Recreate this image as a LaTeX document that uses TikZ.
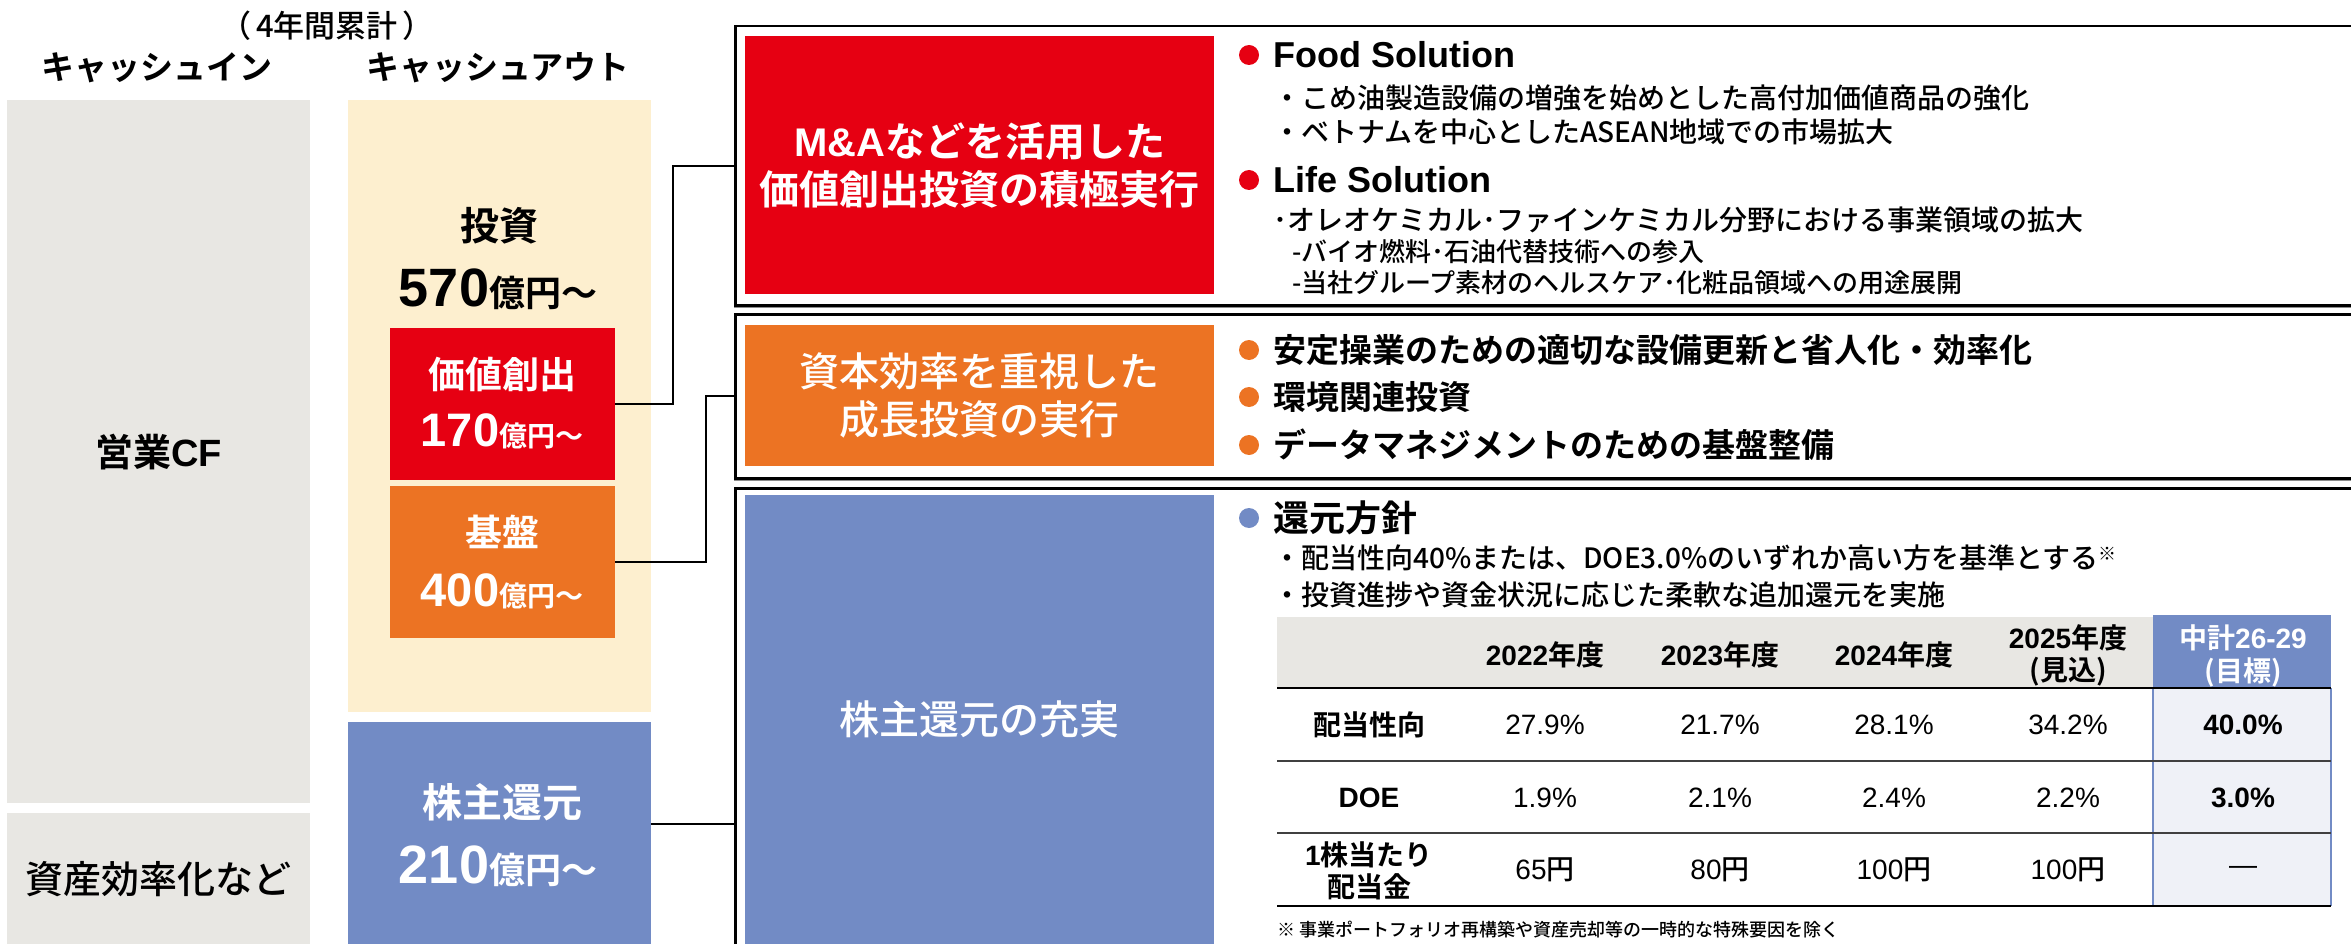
\documentclass[tikz,border=0pt]{standalone}
\usepackage{fontspec}
\setmainfont{Noto Sans CJK JP}[UprightFont={* Medium},BoldFont={* Bold}]
\newfontfamily\lat{Liberation Sans}
\newcommand\fsz[1]{\fontsize{#1}{#1}\selectfont}
\begin{document}
\begin{tikzpicture}[x=1pt,y=-1pt,
  box/.style={anchor=north west,inner sep=0pt,draw=none},
  panel/.style={anchor=north west,inner sep=0pt,draw=black,line width=2.5pt},
  txt/.style={inner sep=0pt},
  item/.style={anchor=west,inner sep=0pt},
  link/.style={line width=2pt}]
\definecolor{euqqwe}{rgb}{0.902,0.,0.071}
\definecolor{eoeier}{rgb}{0.91,0.906,0.89}
\definecolor{fdefcf}{rgb}{0.992,0.937,0.812}
\definecolor{ecirer}{rgb}{0.925,0.451,0.137}
\definecolor{iebccz}{rgb}{0.447,0.545,0.773}
\definecolor{effwfi}{rgb}{0.937,0.945,0.969}
\useasboundingbox (0,0) rectangle (2351,944);
\clip (0,0) rectangle (2351,944);
\draw (327,26) node[txt] (cum) {\fsz{31}（\kern5pt 4年間累計\kern5pt）};
\draw (157,68) node[txt] (cin) {\fsz{33}\bfseries キャッシュイン};
\draw (498,68) node[txt] (cout) {\fsz{33}\bfseries キャッシュアウト};
\draw (7,100) node[box,fill=eoeier,minimum width=303,minimum height=703,font=\fsz{38}\bfseries] (opcf) {営業{\lat CF}};
\draw (7,813) node[box,fill=eoeier,minimum width=303,minimum height=131,font=\fsz{38}] (asset) {資産効率化など};
\draw (348,100) node[box,fill=fdefcf,minimum width=303,minimum height=612] (invest) {};
\draw (390,328) node[box,fill=euqqwe,minimum width=225,minimum height=152] (value) {};
\draw (390,486) node[box,fill=ecirer,minimum width=225,minimum height=152] (base) {};
\draw (348,722) node[box,fill=iebccz,minimum width=303,minimum height=222] (ret) {};
\draw (499,226) node[txt] (investt) {\fsz{39}\bfseries 投資};
\draw (498,306) node[txt,anchor=base] (investn) {\bfseries{\lat\fsz{54}570}\fsz{36}億円～};
\draw (502,374) node[txt,text=white] (valuet) {\fsz{37}\bfseries 価値創出};
\draw (502,446) node[txt,anchor=base,text=white] (valuen) {\bfseries{\lat\fsz{47}170}\fsz{28}億円～};
\draw (502,532) node[txt,text=white] (baset) {\fsz{37}\bfseries 基盤};
\draw (502,606) node[txt,anchor=base,text=white] (basen) {\bfseries{\lat\fsz{47}400}\fsz{28}億円～};
\draw (502,802) node[txt,text=white] (rett) {\fsz{40}\bfseries 株主還元};
\draw (498,883) node[txt,anchor=base,text=white] (retn) {\bfseries{\lat\fsz{54}210}\fsz{36}億円～};
\draw [line width=1.5pt,color=black!45] (734,307) -- (2351,307);
\draw [line width=1.5pt,color=black!45] (734,480) -- (2351,480);
\draw (734,25) node[panel,minimum width=1700,minimum height=279] (p1) {};
\draw (734,313) node[panel,minimum width=1700,minimum height=164] (p2) {};
\draw (734,487) node[panel,minimum width=1700,minimum height=520] (p3) {};
\draw (745,36) node[box,fill=euqqwe,minimum width=469,minimum height=258,text=white,align=center,font=\fontsize{40}{48}\selectfont\bfseries] (grow) {{\lat M\&A}などを活用した\\価値創出投資の積極実行};
\draw (745,325) node[box,fill=ecirer,minimum width=469,minimum height=141,text=white,align=center,font=\fontsize{40}{48}\selectfont] (eff) {資本効率を重視した\\成長投資の実行};
\draw (745,495) node[box,fill=iebccz,minimum width=469,minimum height=449,text=white,font=\fsz{40}] (share) {株主還元の充実};
\draw[link] (value.east) -- ++(58,0) |- (p1.west);
\draw[link] (base.east) -- ++(91,0) |- (p2.west);
\coordinate (lvl) at (0,824);
\draw[link] (ret.east |- lvl) -- (p3.west |- lvl);
\draw [fill=euqqwe,draw=none] (1249,55) circle (10);
\draw (1273,55) node[item] (fs) {\fsz{36}\lat\bfseries Food Solution};
\draw (1273,98) node[item] (fs1) {\fsz{28}・こめ油製造設備の増強を始めとした高付加価値商品の強化};
\draw (1273,132) node[item] (fs2) {\fsz{28}・ベトナムを中心としたASEAN地域での市場拡大};
\draw [fill=euqqwe,draw=none] (1249,180) circle (10);
\draw (1273,180) node[item] (ls) {\fsz{36}\lat\bfseries Life Solution};
\draw (1273,220) node[item] (ls1) {\fsz{28}･オレオケミカル･ファインケミカル分野における事業領域の拡大};
\draw (1292,252) node[item] (ls2) {\fsz{26}-バイオ燃料･石油代替技術への参入};
\draw (1292,283) node[item] (ls3) {\fsz{26}-当社グループ素材のヘルスケア･化粧品領域への用途展開};
\draw [fill=ecirer,draw=none] (1249,350) circle (10);
\draw (1273,350) node[item] (e1) {\fsz{33}\bfseries 安定操業のための適切な設備更新と省人化・効率化};
\draw [fill=ecirer,draw=none] (1249,397) circle (10);
\draw (1273,397) node[item] (e2) {\fsz{33}\bfseries 環境関連投資};
\draw [fill=ecirer,draw=none] (1249,445) circle (10);
\draw (1273,445) node[item] (e3) {\fsz{33}\bfseries データマネジメントのための基盤整備};
\draw [fill=iebccz,draw=none] (1249,518) circle (10);
\draw (1273,518) node[item] (pol) {\fsz{36}\bfseries 還元方針};
\draw (1273,558) node[item] (pol1) {\fsz{28}・配当性向40\%または、DOE3.0\%のいずれか高い方を基準とする\raisebox{8pt}{\fsz{18}※}};
\draw (1273,595) node[item] (pol2) {\fsz{28}・投資進捗や資金状況に応じた柔軟な追加還元を実施};
\draw [fill=eoeier,draw=none] (1277,617) rectangle (2153,688);
\draw [fill=iebccz,draw=none] (2153,615) rectangle (2331,688);
\draw [fill=effwfi,draw=none] (2153,688) rectangle (2331,906);
\draw [line width=2.5pt,color=iebccz] (2153,688) -- (2153,906);
\draw [line width=2.5pt,color=iebccz] (2331,688) -- (2331,906);
\draw [line width=2.5pt] (1277,688) -- (2331,688);
\draw [line width=2pt,color=black!75] (1277,761) -- (2331,761);
\draw [line width=2pt,color=black!75] (1277,833) -- (2331,833);
\draw [line width=2.5pt] (1277,906) -- (2331,906);
\draw (1545,655) node[txt] (h22) {\fsz{28}\bfseries{\lat 2022}年度};
\draw (1720,655) node[txt] (h23) {\fsz{28}\bfseries{\lat 2023}年度};
\draw (1894,655) node[txt] (h24) {\fsz{28}\bfseries{\lat 2024}年度};
\draw (2068,638) node[txt] (h25) {\fsz{28}\bfseries{\lat 2025}年度};
\draw (2068,672) node[txt] (h25b) {\fsz{28}\bfseries(見込)};
\draw (2243,638) node[txt,text=white] (hmp) {\fsz{28}\bfseries 中計{\lat 26-29}};
\draw (2243,672) node[txt,text=white] (hmpb) {\fsz{28}\bfseries(目標)};
\draw (1369,725) node[txt] (r1) {\fsz{28}\bfseries 配当性向};
\draw (1545,725) node[txt] (r1a) {\fsz{28}\lat 27.9\%};
\draw (1720,725) node[txt] (r1b) {\fsz{28}\lat 21.7\%};
\draw (1894,725) node[txt] (r1c) {\fsz{28}\lat 28.1\%};
\draw (2068,725) node[txt] (r1d) {\fsz{28}\lat 34.2\%};
\draw (2243,725) node[txt] (r1e) {\fsz{28}\lat\bfseries 40.0\%};
\draw (1369,798) node[txt] (r2) {\fsz{28}\lat\bfseries DOE};
\draw (1545,798) node[txt] (r2a) {\fsz{28}\lat 1.9\%};
\draw (1720,798) node[txt] (r2b) {\fsz{28}\lat 2.1\%};
\draw (1894,798) node[txt] (r2c) {\fsz{28}\lat 2.4\%};
\draw (2068,798) node[txt] (r2d) {\fsz{28}\lat 2.2\%};
\draw (2243,798) node[txt] (r2e) {\fsz{28}\lat\bfseries 3.0\%};
\draw (1369,855) node[txt] (r3) {\fsz{28}\bfseries{\lat 1}株当たり};
\draw (1369,887) node[txt] (r3b) {\fsz{28}\bfseries 配当金};
\draw (1545,870) node[txt] (r3a) {\fsz{28}{\lat 65}円};
\draw (1720,870) node[txt] (r3c) {\fsz{28}{\lat 80}円};
\draw (1894,870) node[txt] (r3d) {\fsz{28}{\lat 100}円};
\draw (2068,870) node[txt] (r3e) {\fsz{28}{\lat 100}円};
\draw (2243,870) node[txt] (r3f) {\fsz{28}\lat —};
\draw (1277,930) node[item] (note) {\fsz{18}※ 事業ポートフォリオ再構築や資産売却等の一時的な特殊要因を除く};
\end{tikzpicture}
\end{document}
